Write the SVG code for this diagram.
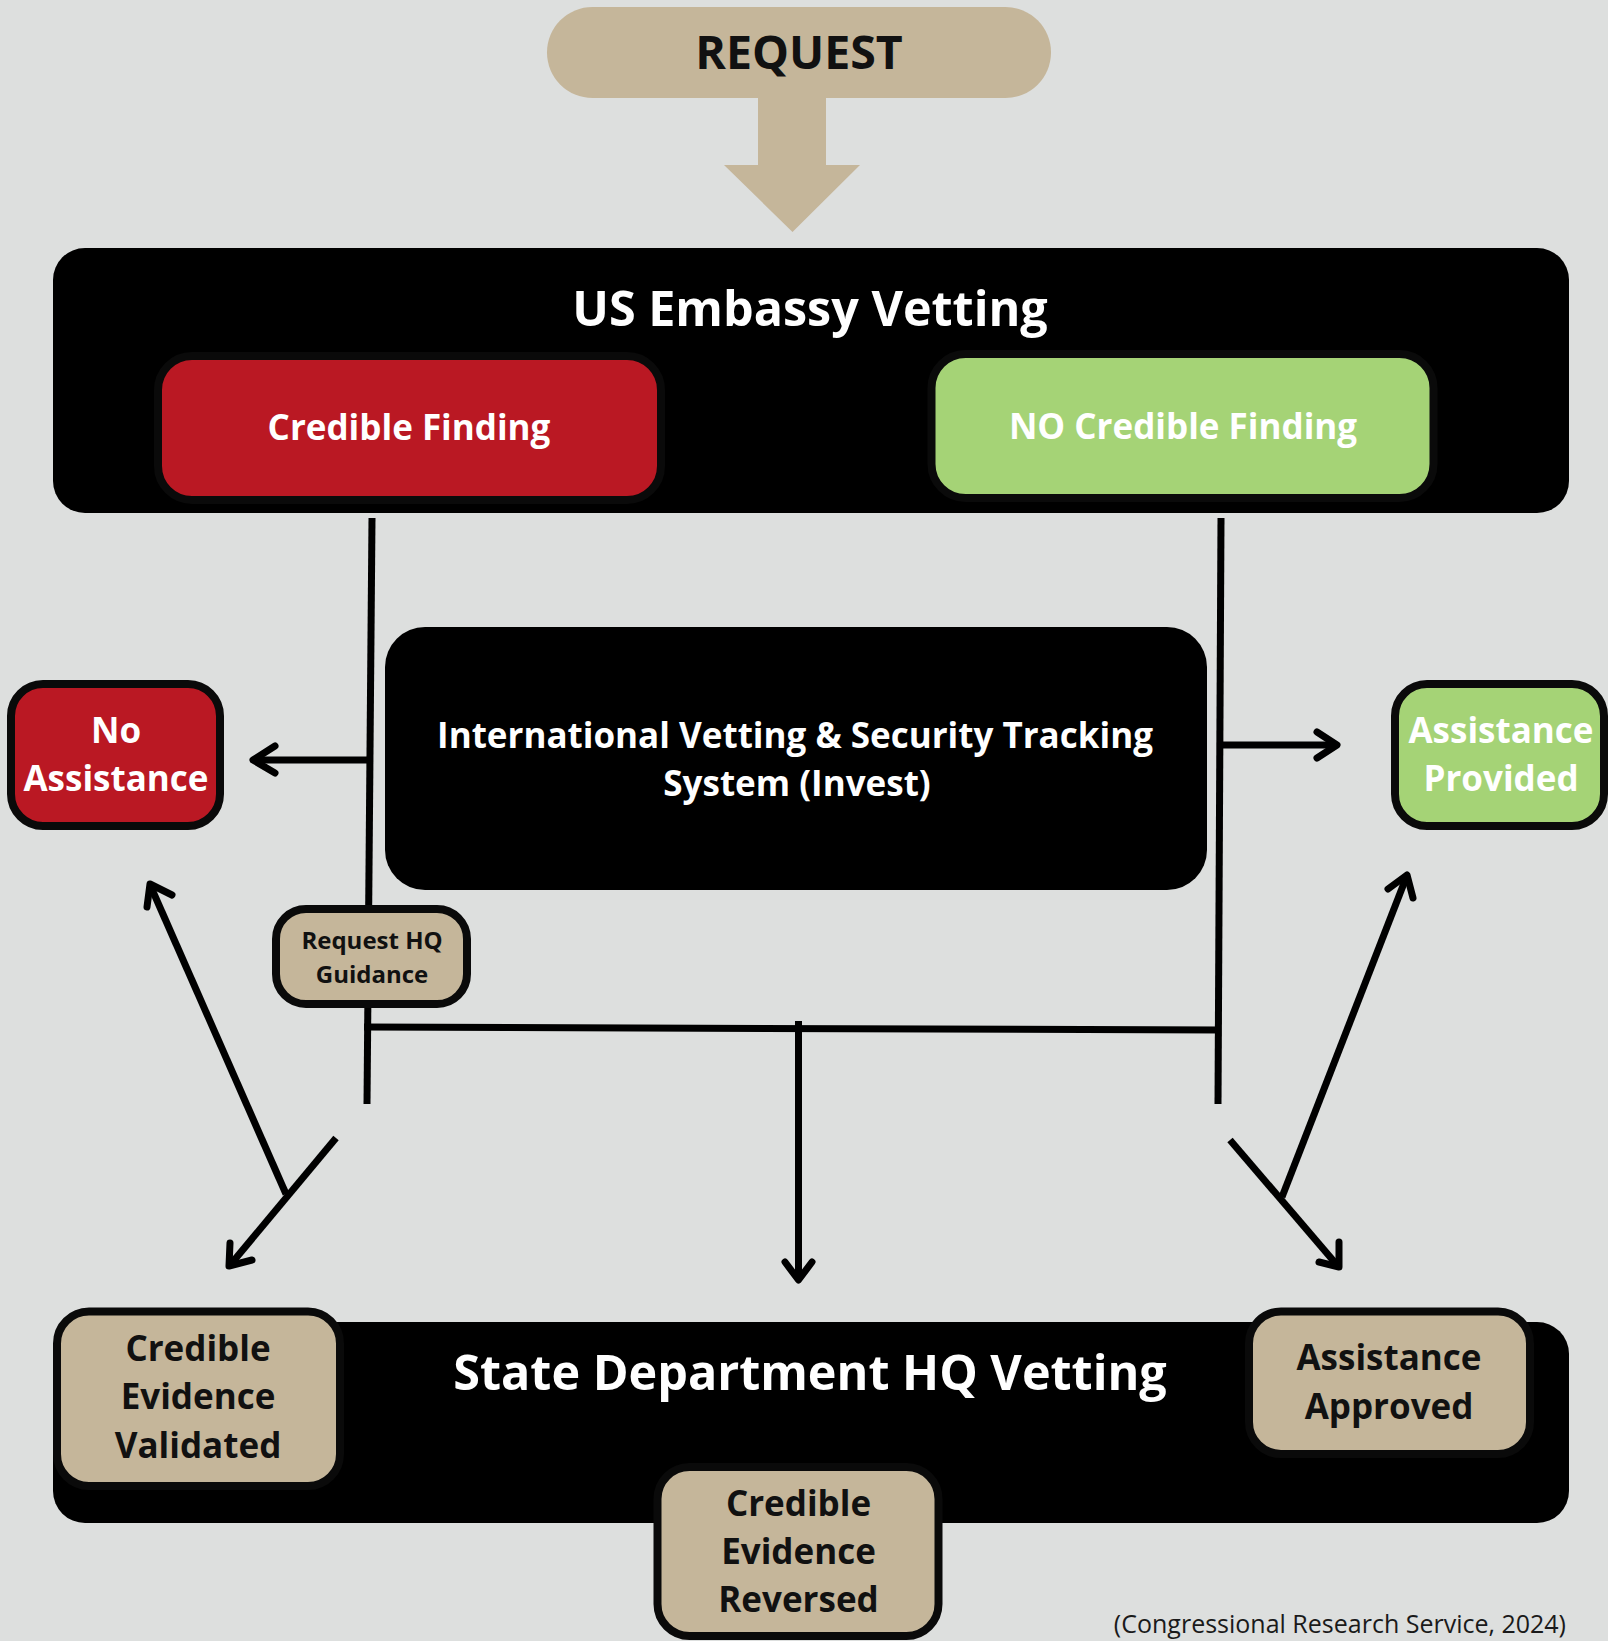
<svg xmlns="http://www.w3.org/2000/svg" width="1608" height="1641" viewBox="0 0 1608 1641">
<style>
.t{font-family:"Open Sans","Noto Sans","Liberation Sans",sans-serif;font-weight:700;text-anchor:middle}
.w{fill:#ffffff}
.k{fill:#111111}
.ln{fill:none;stroke:#000;stroke-width:7;stroke-linecap:butt;stroke-linejoin:round}
.hd{fill:none;stroke:#000;stroke-width:7;stroke-linecap:round;stroke-linejoin:round}
.tan{fill:#C5B69A;stroke:#0a0a0a;stroke-width:8}
.red{fill:#BA1823;stroke:#0a0a0a;stroke-width:8}
.grn{fill:#A5D376;stroke:#0a0a0a;stroke-width:8}
</style>
<rect width="1608" height="1641" fill="#DDDFDE"/>

<g id="request">
<rect x="547" y="7" width="504" height="91" rx="45.5" fill="#C5B69A"/>
<polygon points="758,97 826,97 826,165 860,165 792.5,232 724,165 758,165" fill="#C5B69A"/>
<text class="t k" x="799" y="69" font-size="46.5">REQUEST</text>
</g>

<g id="embassy">
<rect x="53" y="248" width="1516" height="265" rx="32" fill="#000"/>
<text class="t w" x="810" y="326" font-size="48.5">US Embassy Vetting</text>
</g>

<g id="credible-finding">
<rect x="158" y="356" width="503" height="144" rx="34" class="red"/>
<text class="t w" x="409" y="440" font-size="35">Credible Finding</text>
</g>

<g id="no-credible-finding">
<rect x="931.5" y="354" width="502" height="144" rx="34" class="grn"/>
<text class="t w" x="1183" y="439" font-size="35">NO Credible Finding</text>
</g>

<g id="connectors">
<path class="ln" d="M372,518 L367,1104"/>
<path class="ln" d="M1221,518 L1218,1104"/>
<path class="ln" d="M364,1027 L1221,1030" stroke-width="8"/>
<path class="ln" d="M798.5,1021 L798.5,1279" stroke-width="6"/>
<path class="hd" d="M785,1262 L798.5,1280 L812,1262" stroke-width="6"/>
<path class="ln" d="M367,760 L256,760"/>
<path class="hd" d="M275,746 L253,760 L275,773"/>
<path class="ln" d="M1221,745 L1334,745"/>
<path class="hd" d="M1317,732 L1337,745 L1317,758"/>
<path class="ln" d="M286,1194 L151,887"/>
<path class="hd" d="M147,907 L150,884 L172,895"/>
<path class="ln" d="M336,1138 L231,1264"/>
<path class="hd" d="M230,1243 L229,1266 L252,1260"/>
<path class="ln" d="M1230,1140 L1337,1265"/>
<path class="hd" d="M1339,1242 L1339,1267 L1319,1262"/>
<path class="ln" d="M1282,1197 L1406,878"/>
<path class="hd" d="M1388,889 L1407,875 L1413,898"/>
</g>

<g id="invest">
<rect x="385" y="627" width="822" height="263" rx="40" fill="#000"/>
<text class="t w" x="795" y="748" font-size="35">International Vetting &amp; Security Tracking</text>
<text class="t w" x="797" y="796" font-size="35">System (Invest)</text>
</g>

<g id="no-assistance">
<rect x="11" y="684" width="209" height="142" rx="32" class="red"/>
<text class="t w" x="116" y="743" font-size="35">No</text>
<text class="t w" x="116" y="791" font-size="35">Assistance</text>
</g>

<g id="assistance-provided">
<rect x="1395" y="684" width="209" height="142" rx="32" class="grn"/>
<text class="t w" x="1501" y="743" font-size="35">Assistance</text>
<text class="t w" x="1501" y="791" font-size="35">Provided</text>
</g>

<g id="request-hq-guidance">
<rect x="276" y="909" width="191" height="95" rx="30" class="tan"/>
<text class="t k" x="372" y="949" font-size="24">Request HQ</text>
<text class="t k" x="372" y="983" font-size="24">Guidance</text>
</g>

<g id="hq">
<rect x="53" y="1322" width="1516" height="201" rx="32" fill="#000"/>
<text class="t w" x="810" y="1390" font-size="48.5">State Department HQ Vetting</text>
</g>

<g id="credible-evidence-validated">
<rect x="57" y="1311.5" width="283" height="174.5" rx="32" class="tan"/>
<text class="t k" x="198" y="1361" font-size="35">Credible</text>
<text class="t k" x="198" y="1409" font-size="35">Evidence</text>
<text class="t k" x="198" y="1458" font-size="35">Validated</text>
</g>

<g id="assistance-approved">
<rect x="1249" y="1311.5" width="281" height="142.5" rx="32" class="tan"/>
<text class="t k" x="1389" y="1370" font-size="35">Assistance</text>
<text class="t k" x="1389" y="1419" font-size="35">Approved</text>
</g>

<g id="credible-evidence-reversed">
<rect x="657.5" y="1467" width="281" height="169" rx="32" class="tan"/>
<text class="t k" x="798.5" y="1516" font-size="35">Credible</text>
<text class="t k" x="798.5" y="1564" font-size="35">Evidence</text>
<text class="t k" x="798.5" y="1612" font-size="35">Reversed</text>
</g>

<text id="caption" x="1566" y="1633" font-family="'Open Sans','Noto Sans','Liberation Sans',sans-serif" font-size="25" fill="#1a1a1a" text-anchor="end">(Congressional Research Service, 2024)</text>
</svg>
